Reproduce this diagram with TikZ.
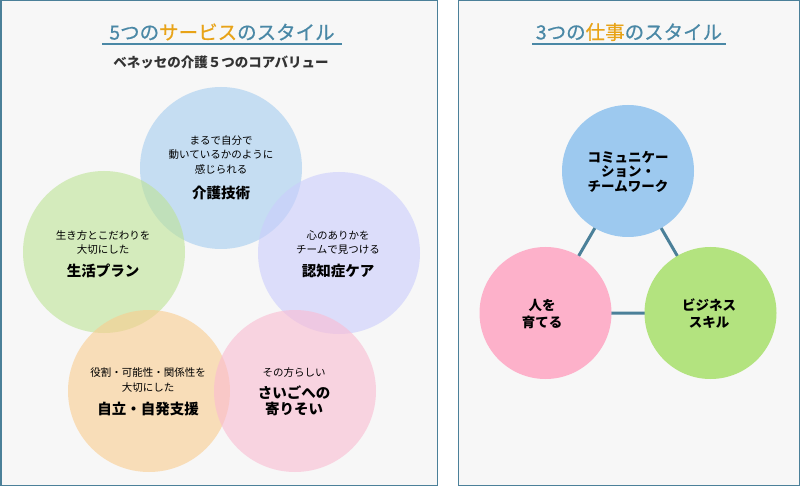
\documentclass[tikz,border=0pt]{standalone}
\usepackage{fontspec}
\setmainfont{Noto Sans CJK JP}
\newfontfamily\ttlfont[FakeBold=0.6]{Noto Sans CJK JP}
\definecolor{frame}{HTML}{4B8099}
\definecolor{panelbg}{HTML}{F7F7F7}
\definecolor{ttlblue}{HTML}{4A88A6}
\definecolor{ttlorange}{HTML}{E8A317}
\definecolor{cblue}{RGB}{165,204,239}
\definecolor{cgreen}{RGB}{189,227,150}
\definecolor{cpurple}{RGB}{202,205,252}
\definecolor{corange}{RGB}{250,204,142}
\definecolor{cpink}{RGB}{250,187,210}
\definecolor{rblue}{HTML}{9DC9EF}
\definecolor{rpink}{HTML}{FDB1CA}
\definecolor{rgreen}{HTML}{B3E37F}
\definecolor{subgray}{HTML}{333333}
\begin{document}
\begin{tikzpicture}[x=1pt,y=-1pt,
  panel/.style={draw=frame,line width=1.5pt,fill=panelbg},
  softcircle/.style={circle,minimum size=162pt,inner sep=0pt,fill opacity=0.6},
  solidcircle/.style={circle,minimum size=132pt,inner sep=0pt},
  small/.style={inner sep=0pt,font=\fontsize{10.5}{12}\selectfont,text=black},
  big/.style={inner sep=0pt,font=\fontsize{14.5}{16}\selectfont\bfseries,text=black},
  rtext/.style={inner sep=0pt,font=\fontsize{13.5}{15}\selectfont\bfseries,text=black},
  ttl/.style={inner sep=0pt,font=\ttlfont\fontsize{19.5}{22}\selectfont,text=ttlblue},
  ttlline/.style={draw=ttlblue,line width=2pt},
  link/.style={draw=frame,line width=3pt}]
\useasboundingbox (0,0) rectangle (800,486);
% panels
\draw[panel] (0.75,0.75) rectangle (437.25,485.25);
\draw[panel] (458.25,0.75) rectangle (799.25,485.25);
% left title
\node[ttl] (lt) at (222,32) {5つの\textcolor{ttlorange}{サービス}のスタイル};
\coordinate (lu1) at (102,44);
\coordinate (lu2) at (342,44);
\draw[ttlline] (lu1) -- (lu2);
\node[inner sep=0pt,font=\fontsize{13.5}{15}\selectfont\bfseries,text=subgray] (ls) at (221,62) {ベネッセの介護５つのコアバリュー};
% left circles
\node[softcircle,fill=cblue] (cb) at (221,168) {};
\node[softcircle,fill=cgreen] (cg) at (104,252) {};
\node[softcircle,fill=cpurple] (cp) at (339,253) {};
\node[softcircle,fill=corange] (co) at (149,391) {};
\node[softcircle,fill=cpink] (ck) at (295,391) {};
% blue text
\node[small] (b1) at (221,141) {まるで自分で};
\node[small] (b2) at (221,155) {動いているかのように};
\node[small] (b3) at (221,169) {感じられる};
\node[big] (b4) at (221,193) {介護技術};
% green text
\node[small] (g1) at (103,236) {生き方とこだわりを};
\node[small] (g2) at (103,250) {大切にした};
\node[big] (g3) at (103,271) {生活プラン};
% purple text
\node[small] (p1) at (338,235) {心のありかを};
\node[small] (p2) at (338,250) {チームで見つける};
\node[big] (p3) at (338,271) {認知症ケア};
% orange text
\node[small] (o1) at (148,373) {役割・可能性・関係性を};
\node[small] (o2) at (148,388) {大切にした};
\node[big] (o3) at (148,409) {自立・自発支援};
% pink text
\node[small] (k1) at (294,373) {その方らしい};
\node[big] (k2) at (294,393) {さいごへの};
\node[big] (k3) at (294,409) {寄りそい};
% right title
\node[ttl] (rt) at (629,32) {3つの\textcolor{ttlorange}{仕事}のスタイル};
\coordinate (ru1) at (532,44);
\coordinate (ru2) at (726,44);
\draw[ttlline] (ru1) -- (ru2);
% right circles
\coordinate (pb) at (628,171);
\coordinate (pp) at (545.5,313);
\coordinate (pg) at (710.5,313);
\draw[link] (pb) -- (pp) -- (pg) -- cycle;
\node[solidcircle,fill=rblue] (rb) at (pb) {};
\node[solidcircle,fill=rpink] (rp) at (pp) {};
\node[solidcircle,fill=rgreen] (rg) at (pg) {};
\node[rtext] (rb1) at (628,157) {コミュニケー};
\node[rtext] (rb2) at (628,172) {ション・};
\node[rtext] (rb3) at (628,186) {チームワーク};
\node[rtext] (rp1) at (542,305) {人を};
\node[rtext] (rp2) at (542,322) {育てる};
\node[rtext] (rg1) at (709,305) {ビジネス};
\node[rtext] (rg2) at (709,322) {スキル};
\end{tikzpicture}
\end{document}
